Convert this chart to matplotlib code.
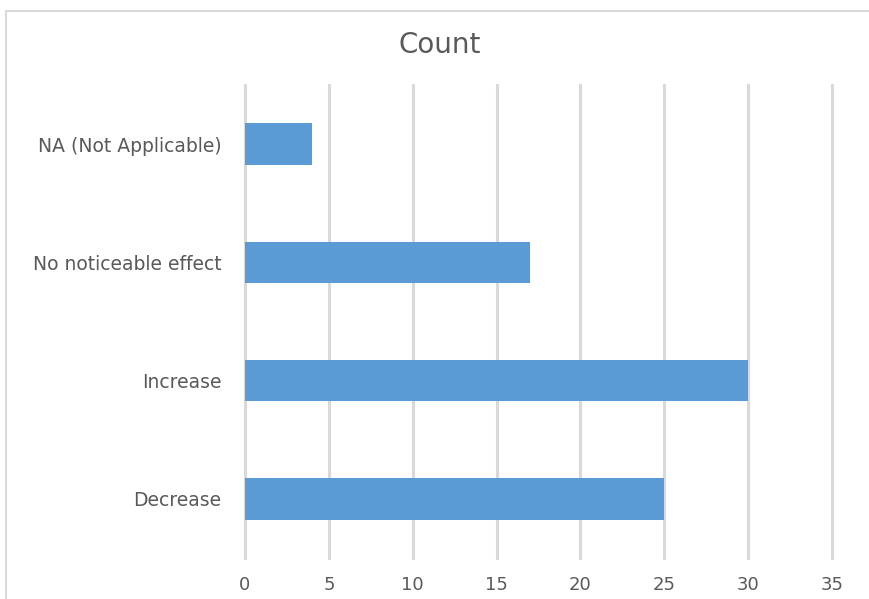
import matplotlib
matplotlib.use("Agg")
import matplotlib.pyplot as plt
from matplotlib.lines import Line2D

categories = ["Decrease", "Increase", "No noticeable effect", "NA (Not Applicable)"]
counts = [25, 30, 17, 4]
x_ticks = [0, 5, 10, 15, 20, 25, 30, 35]

BAR = "#5B9BD5"
GRID = "#D9D9D9"
TEXT = "#595959"
FONT = ["DejaVu Sans"]

W, H = 869, 599
fig = plt.figure(figsize=(W / 100, H / 100), dpi=100)
ax = fig.add_axes([245 / W, 1 - 558 / H, (832 - 245) / W, (558 - 85) / H])

ypos = list(range(len(categories)))
ax.barh(ypos, counts, height=0.35, color=BAR, zorder=3)

ax.set_xlim(0, 35)
ax.set_ylim(-0.5, len(categories) - 0.5)
ax.set_xticks(x_ticks)
ax.set_xticklabels([str(t) for t in x_ticks], fontsize=13, color=TEXT, family=FONT)
ax.set_yticks(ypos)
ax.set_yticklabels(categories, fontsize=13.5, color=TEXT, family=FONT)
ax.tick_params(axis="both", length=0)
ax.tick_params(axis="x", pad=13)
ax.tick_params(axis="y", pad=17)

ax.grid(axis="x", color=GRID, linewidth=2.2, zorder=0)
for gl in ax.get_xgridlines():
    gl.set_clip_on(False)
for s in ax.spines.values():
    s.set_visible(False)

fig.text(440 / W, 1 - 45 / H, "Count", ha="center", va="center",
         fontsize=20, color=TEXT, family=FONT)

# chart area frame (extends past the right and bottom edges)
fig.add_artist(Line2D([6 / W, 6 / W], [0, 1 - 11 / H], transform=fig.transFigure,
                      color=GRID, linewidth=1.5))
fig.add_artist(Line2D([6 / W, 1], [1 - 11 / H, 1 - 11 / H], transform=fig.transFigure,
                      color=GRID, linewidth=1.5))

fig.savefig("out.png", dpi=100)
